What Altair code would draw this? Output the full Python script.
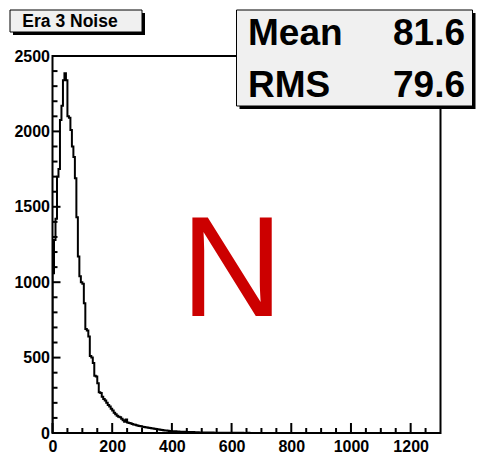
import altair as alt
import pandas as pd

# ---- data ----
bin_width = 5
counts = [
    1060, 1280, 1420, 1700, 1750, 2075, 2170, 2340, 2385, 2340,   # 0-50
    2100, 2090, 2010, 1900, 1830, 1690, 1430, 1170, 1040, 1000,   # 50-100
    990, 860, 690, 680, 640, 510, 500, 465, 380, 375,             # 100-150
    330, 270, 265, 240, 225, 215, 200, 185, 175, 160,             # 150-200
    150, 135, 125, 115, 108, 105, 95, 85, 75, 90,                 # 200-250
    70, 66, 64, 60, 56, 54, 52, 48, 46, 44,                       # 250-300
    42, 40, 38, 36, 34, 33, 31, 30, 28, 27,                       # 300-350
    25, 23, 22, 20, 19, 17, 16, 15, 14, 13,                       # 350-400
    12, 12, 11, 10, 10, 9, 9, 8, 8, 8,                            # 400-450
    7, 7, 6, 6, 6, 5, 5, 5, 4, 4,                                 # 450-500
    4, 4, 4, 3, 3, 3, 3, 3, 2, 2,                                 # 500-550
    2, 2, 2, 2, 2, 1, 1, 1, 1, 1,                                 # 550-600
    1, 1, 1, 1, 0, 1, 0, 1, 0, 0,                                 # 600-650
    0, 1, 0, 0, 0, 0, 0, 0, 0, 0,                                 # 650-700
]
x_major = [0, 200, 400, 600, 800, 1000, 1200]
x_minor = [v for v in range(0, 1300, 50) if v % 200 != 0]
y_major = [0, 500, 1000, 1500, 2000, 2500]
y_minor = [v for v in range(0, 2500, 100) if v % 500 != 0]
title_text = "Era 3 Noise"
stat_names = ["Mean", "RMS"]
stat_values = ["81.6", "79.6"]
big_letter = "N"

W, H = 388, 377
FONT = "Liberation Sans"

edges = [i * bin_width for i in range(len(counts))]
hist = pd.DataFrame({
    "x": [0] + edges + [len(counts) * bin_width, 1300],
    "y": [0] + counts + [0, 0],
})

xs = alt.Scale(domain=[0, 1300], nice=False, zero=False)
ys = alt.Scale(domain=[0, 2500], nice=False)

axis_common = dict(ticks=False, domain=False, grid=False, labelFont=FONT,
                   labelFontWeight="bold", labelFontSize=16, labelColor="black",
                   title=None, labelFlush=False, labelOverlap=False, format="d")
xaxis = alt.Axis(values=x_major, labelPadding=5, **axis_common)
yaxis = alt.Axis(values=y_major, labelPadding=3, **axis_common)

line = alt.Chart(hist).mark_line(interpolate="step-after", color="black",
                                 strokeWidth=2, clip=True).encode(
    x=alt.X("x:Q", scale=xs, axis=xaxis),
    y=alt.Y("y:Q", scale=ys, axis=yaxis),
)

def xticks(vals, length):
    return alt.Chart(pd.DataFrame({"x": vals})).mark_rule(color="black", strokeWidth=2).encode(
        x=alt.X("x:Q", scale=xs, axis=xaxis), y=alt.value(H), y2=alt.value(H - length))

def yticks(vals, length):
    return alt.Chart(pd.DataFrame({"y": vals})).mark_rule(color="black", strokeWidth=2).encode(
        y=alt.Y("y:Q", scale=ys, axis=yaxis), x=alt.value(0), x2=alt.value(length))

one = pd.DataFrame({"a": [0]})

def box(x0, y0, x1, y1, fill, stroke=None, sw=0):
    kw = dict(fill=fill)
    if stroke:
        kw.update(stroke=stroke, strokeWidth=sw)
    return alt.Chart(one).mark_rect(**kw).encode(
        x=alt.value(x0), x2=alt.value(x1), y=alt.value(y0), y2=alt.value(y1))

def txt(s, x, y, size, align="left", weight="bold", color="black"):
    return alt.Chart(one).mark_text(text=s, font=FONT, fontSize=size, fontWeight=weight,
                                    align=align, baseline="alphabetic", color=color).encode(
        x=alt.value(x), y=alt.value(y))

# plot-area origin is at (52.5, 56) of the page
title_layers = [
    box(-39.5, -43, 92.5, -21, "black"),
    box(-42.5, -46, 89.5, -24, "#f0f0f0", "black", 1),
    txt(title_text, 17.5, -29.5, 17.5, align="center"),
]
stat_layers = [
    box(187, -43, 423, 53, "black"),
    box(184, -46, 420, 50, "#f0f0f0", "black", 1),
    txt(stat_names[0], 195.5, -11, 37),
    txt(stat_values[0], 412.5, -11, 37, align="right"),
    txt(stat_names[1], 195.5, 40.7, 37),
    txt(stat_values[1], 412.5, 40.7, 37, align="right"),
]
letter = txt(big_letter, 179.5, 260, 142, align="center", weight="normal", color="#cc0000")

chart = alt.layer(
    line,
    xticks(x_major, 10), xticks(x_minor, 5),
    yticks(y_major, 8), yticks(y_minor, 5),
    letter,
    *title_layers,
    *stat_layers,
).properties(
    width=W, height=H,
    autosize=alt.AutoSizeParams(type="none"),
    padding={"left": 52.5, "top": 56, "right": 37.5, "bottom": 21},
    background="white",
).configure_view(stroke="black", strokeWidth=2)

chart.save("out.html", embed_options={"renderer": "svg", "actions": False})
